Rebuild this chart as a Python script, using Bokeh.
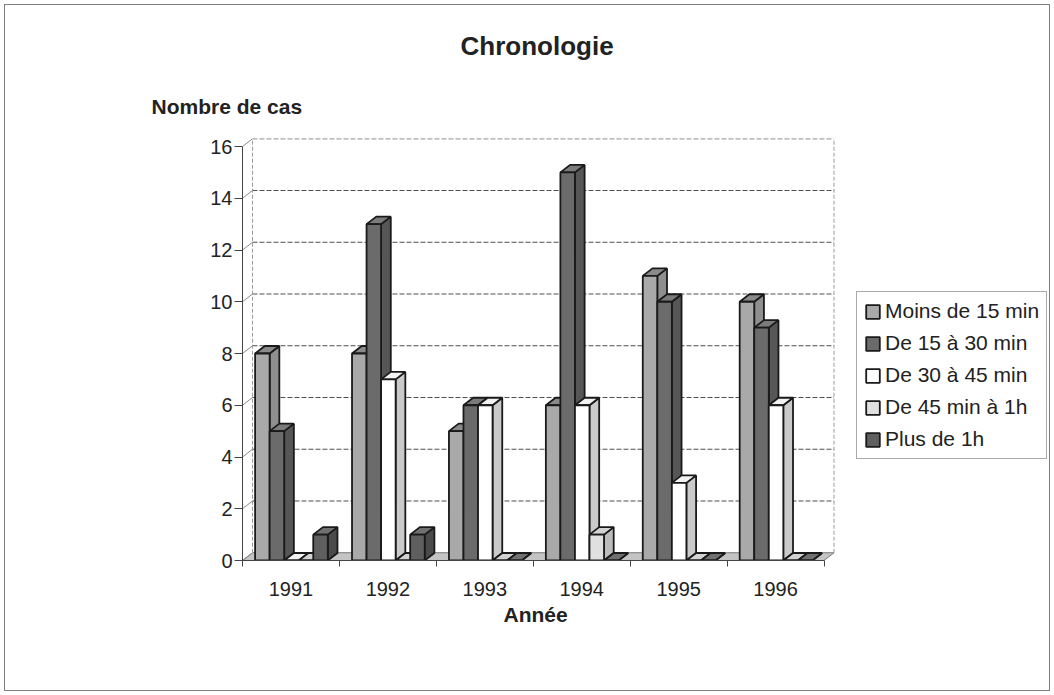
from bokeh.plotting import figure
from bokeh.models import Range1d, FixedTicker, Legend, LegendItem, Title, InlineStyleSheet
from bokeh.embed import file_html
from bokeh.resources import INLINE

# ---- data ----
years = ["1991", "1992", "1993", "1994", "1995", "1996"]
series_names = ["Moins de 15 min", "De 15 à 30 min", "De 30 à 45 min",
                "De 45 min à 1h", "Plus de 1h"]
moins_15 = [8, 8, 5, 6, 11, 10]
de_15_30 = [5, 13, 6, 15, 10, 9]
de_30_45 = [0, 7, 6, 6, 3, 6]
de_45_1h = [0, 0, 0, 1, 0, 0]
plus_1h = [1, 1, 0, 0, 0, 0]
y_ticks = [0, 2, 4, 6, 8, 10, 12, 14, 16]

series = [moins_15, de_15_30, de_30_45, de_45_1h, plus_1h]

# ---- styles ----
front_colors = ["#a9a9a9", "#6b6b6b", "#ffffff", "#e0e0e0", "#5f5f5f"]
side_colors = ["#8f8f8f", "#565656", "#cacaca", "#bcbcbc", "#4a4a4a"]
top_colors = ["#8a8a8a", "#7b7b7b", "#f2f2f2", "#d2d2d2", "#707070"]
FONT = "Liberation Sans"
TXT = "#222222"

n = len(years)
DX, DY = 0.103, 0.30     # wall depth (data units)
BDX, BDY = 0.10, 0.29    # bar depth
OFF, W = 0.13, 0.15      # bar offset / width within category

LEFT, RIGHT_PAD, TOP, BOTTOM = 242, 4, 138, 135
FW = 1054 - LEFT - RIGHT_PAD        # frame width incl. legend area
CHART_PX = 591.5                    # pixels taken by the 3D chart block
x_end = (n + DX) * FW / CHART_PX

p = figure(width=1054, height=695,
           x_range=Range1d(0, x_end), y_range=Range1d(0, 16.31),
           output_backend="svg", toolbar_location=None,
           min_border_left=LEFT, min_border_right=RIGHT_PAD,
           min_border_top=TOP, min_border_bottom=BOTTOM)
p.outline_line_color = None
p.border_fill_color = None
p.background_fill_color = None
p.xgrid.visible = False
p.ygrid.visible = False
p.stylesheets = [InlineStyleSheet(css=(
    ":host { box-shadow: inset 0 0 0 4px #ffffff, inset 0 0 0 5px #808080; }"))]

# ---- walls ----
p.patch([0, n, n + DX, DX], [0, 0, DY, DY], fill_color="#c4c4c4",
        line_color="#777777", line_width=1)
top = y_ticks[-1]
p.segment(x0=[DX] * (len(y_ticks) - 1), y0=[v + DY for v in y_ticks[1:]],
          x1=[n + DX] * (len(y_ticks) - 1), y1=[v + DY for v in y_ticks[1:]],
          line_color="#4f4f4f", line_width=1, line_dash="5 2")
p.segment(x0=[0] * len(y_ticks), y0=y_ticks,
          x1=[DX] * len(y_ticks), y1=[v + DY for v in y_ticks],
          line_color="#8a8a8a", line_width=1)
p.segment(x0=[DX, n + DX], y0=[DY, DY], x1=[DX, n + DX], y1=[top + DY, top + DY],
          line_color="#9a9a9a", line_width=1, line_dash="4 2")

# ---- 3D bars ----
items = []
for j, vals in enumerate(series):
    x0 = [i + OFF + j * W for i in range(n)]
    x1 = [a + W for a in x0]
    side_xs = [[a, a + BDX, a + BDX, a] for a in x1]
    side_ys = [[0, BDY, v + BDY, v] for v in vals]
    top_xs = [[a, b, b + BDX, a + BDX] for a, b in zip(x0, x1)]
    top_ys = [[v, v, v + BDY, v + BDY] for v in vals]
    p.patches(side_xs, side_ys, fill_color=side_colors[j], line_color="#1a1a1a",
              line_width=1.8)
    p.patches(top_xs, top_ys, fill_color=top_colors[j], line_color="#1a1a1a",
              line_width=1.8)
    r = p.quad(left=x0, right=x1, bottom=0, top=vals, fill_color=front_colors[j],
               line_color="#1a1a1a", line_width=1.8)
    items.append(LegendItem(label=series_names[j], renderers=[r]))

# ---- axes ----
xa = p.xaxis[0]
xa.ticker = FixedTicker(ticks=[i + 0.5 for i in range(n)],
                        minor_ticks=list(range(n + 1)))
xa.major_label_overrides = {i + 0.5: years[i] for i in range(n)}
xa.bounds = (0, n)
xa.major_tick_out = 0
xa.major_tick_in = 0
xa.minor_tick_out = 6
xa.minor_tick_in = 0
xa.minor_tick_line_color = "#444444"
xa.axis_line_color = "#444444"
xa.major_label_standoff = 15
xa.major_label_text_font = FONT
xa.major_label_text_font_size = "20px"
xa.major_label_text_color = TXT

ya = p.yaxis[0]
ya.ticker = FixedTicker(ticks=y_ticks, minor_ticks=[])
ya.bounds = (0, 16)
ya.major_tick_out = 8
ya.major_tick_in = 0
ya.major_tick_line_color = "#444444"
ya.axis_line_color = "#444444"
ya.major_label_standoff = 2
ya.major_label_text_font = FONT
ya.major_label_text_font_size = "20px"
ya.major_label_text_color = TXT

# ---- titles ----
p.title.text = "Chronologie"
p.title.align = "left"
p.title.offset = 218
p.title.text_font = FONT
p.title.text_font_size = "26px"
p.title.text_font_style = "bold"
p.title.text_color = TXT
p.title.standoff = 24

p.add_layout(Title(text="Nombre de cas", align="left", offset=-91, standoff=41,
                   text_font=FONT, text_font_size="21px", text_font_style="bold",
                   text_color=TXT), "above")
p.add_layout(Title(text="Année", align="left", offset=261, standoff=5,
                   text_font=FONT, text_font_size="21px", text_font_style="bold",
                   text_color=TXT), "below")

# ---- legend ----
legend = Legend(items=items, location=(614, 101), orientation="vertical",
                glyph_width=17, glyph_height=17, label_height=24, spacing=8,
                padding=7, margin=0, label_standoff=4,
                label_text_font=FONT, label_text_font_size="21px",
                label_text_color=TXT, border_line_color="#555555",
                border_line_width=1, background_fill_color="#ffffff",
                background_fill_alpha=1)
p.add_layout(legend)

open("out.html", "w").write(file_html(p, INLINE))
